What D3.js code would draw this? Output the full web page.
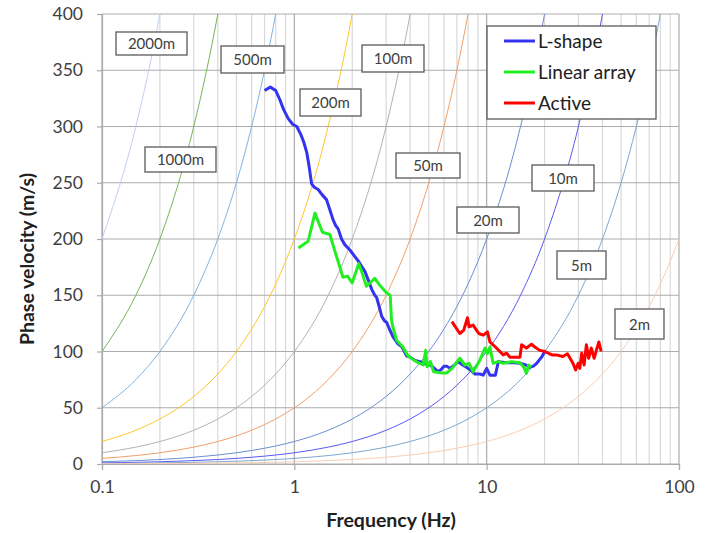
<!DOCTYPE html>
<html>
<head>
<meta charset="utf-8">
<script src="https://cdn.jsdelivr.net/npm/d3@7"></script>
<style>
  body { margin: 0; background: #fff; }
  svg text { font-family: Lato, "Open Sans", sans-serif; }
</style>
</head>
<body>
<div id="chart"></div>
<script>
// chart data
//= ================================
var lShape = [
  [0.70, 332], [0.75, 335], [0.80, 332], [0.84, 324], [0.88, 315], [0.93, 307],
  [0.98, 302], [1.03, 300], [1.08, 293], [1.12, 286], [1.16, 277], [1.19, 266],
  [1.23, 249], [1.27, 246], [1.33, 244], [1.40, 239], [1.47, 235], [1.53, 226],
  [1.59, 217], [1.64, 212], [1.69, 209], [1.76, 200], [1.83, 195], [1.90, 192],
  [1.95, 190], [2.05, 185], [2.16, 180], [2.25, 175], [2.33, 171], [2.43, 163],
  [2.53, 155], [2.62, 150], [2.68, 148], [2.76, 140], [2.85, 131], [2.95, 127],
  [3.02, 126], [3.12, 120], [3.26, 113], [3.45, 107], [3.63, 104], [3.84, 96],
  [4.00, 95], [4.25, 92], [4.49, 91], [4.80, 89], [5.10, 88], [5.35, 85],
  [5.60, 82], [5.80, 84], [6.00, 87], [6.20, 87], [6.45, 85], [6.80, 88],
  [7.10, 91], [7.50, 88], [7.85, 86], [8.30, 83], [8.70, 80], [9.20, 80],
  [9.60, 79], [10.0, 85], [10.4, 79], [11.1, 79], [11.5, 91], [12.7, 90],
  [14.0, 90], [14.9, 89.5], [16.0, 88], [16.7, 86], [17.5, 87], [18.2, 89.5],
  [19.3, 95], [20.1, 100]
];

var linearArray = [
  [1.05, 192], [1.18, 198], [1.28, 223], [1.40, 206], [1.53, 204], [1.64, 187],
  [1.79, 166], [1.89, 167], [2.00, 161], [2.16, 178], [2.24, 171], [2.37, 158],
  [2.62, 165], [2.78, 159], [3.02, 152], [3.15, 150], [3.20, 128], [3.25, 122],
  [3.40, 110], [3.67, 104], [3.90, 96], [4.30, 91], [4.68, 88], [4.82, 101],
  [4.90, 86.5], [5.10, 91], [5.30, 82], [5.80, 81], [6.20, 81], [6.60, 85],
  [7.25, 94], [7.70, 88], [8.10, 89.5], [8.50, 82], [9.20, 92], [9.80, 103],
  [10.1, 98], [10.4, 104], [10.8, 89.5], [11.5, 91], [12.2, 89.5], [13.5, 91],
  [14.9, 90], [15.6, 86], [16.1, 80.5], [16.5, 88], [17.1, 86.5]
];

var active = [
  [6.60, 126.5], [7.25, 116], [7.60, 119], [7.95, 130], [8.10, 122], [8.50, 123.5],
  [9.10, 116], [9.60, 114.5], [10.1, 117.5], [10.4, 108.5], [11.1, 104], [12.2, 97],
  [12.7, 98.5], [13.2, 95], [14.9, 95], [15.2, 106], [16.1, 103], [17.1, 106.5],
  [17.8, 104], [18.9, 101], [20.1, 100], [21.2, 98], [21.9, 97], [23.0, 97],
  [24.9, 95.5], [26.3, 98], [28.1, 89.5], [29.0, 83.5], [29.9, 89.5], [30.5, 85],
  [31.2, 98.5], [32.1, 88], [33.0, 106], [33.9, 94], [35.0, 103], [36.2, 94],
  [37.2, 101], [38.3, 108.5], [39.4, 100]
];

// wavelength reference lines: v = f * wavelength, at these frequencies
var curveFreqs = [0.1, 0.15, 0.2, 0.3, 0.4, 0.5, 0.6, 0.7, 0.8, 0.9,
  1, 1.5, 2, 3, 4, 5, 6, 7, 8, 9,
  10, 15, 20, 30, 40, 50, 60, 70, 80, 90, 100];
var wavelengths = [2000, 1000, 500, 200, 100, 50, 20, 10, 5, 2];
var wavelengthLabels = ["2000m", "1000m", "500m", "200m", "100m", "50m", "20m", "10m", "5m", "2m"];

var seriesNames = ["L-shape", "Linear array", "Active"];
var xTicks = [0.1, 1, 10, 100];
var yTicks = [0, 50, 100, 150, 200, 250, 300, 350, 400];

// styles / layout
//= ================================
var curveColors = ["#bfd0ec", "#7ab356", "#80b3e2", "#ffc72a", "#b3b3b3",
  "#f2a06a", "#6b8dd2", "#5a5af5", "#7ea7d0", "#f8cfb4"];
var seriesColors = ["#3434f0", "#22ee22", "#ff0000"];
// label boxes [x, y, w, h] in px
var labelBoxes = [
  [116, 32, 71, 23], [145, 147, 71, 25], [221, 46, 63, 27], [300, 89, 61, 27],
  [362, 45, 62, 27], [396, 153, 64, 25], [457, 207, 62, 26], [532, 165, 62, 26],
  [557, 251, 49, 28], [615, 309, 49, 30]
];

var svgWidth = 707;
var svgHeight = 533;
var margin = { top: 14, right: 28, bottom: 69, left: 102 };
var width = svgWidth - margin.left - margin.right;
var height = svgHeight - margin.top - margin.bottom;

var svg = d3.select("#chart")
  .append("svg")
    .attr("width", svgWidth)
    .attr("height", svgHeight);

var chartGroup = svg.append("g")
  .attr("transform", `translate(${margin.left}, ${margin.top})`);

var xScale = d3.scaleLog().domain([0.1, 100]).range([0, width]);
var yScale = d3.scaleLinear().domain([0, 400]).range([height, 0]);

// minor vertical gridlines
var minorX = [];
[0.1, 1, 10].forEach(function(d) {
  for (var k = 2; k <= 9; k++) minorX.push(d * k);
});
chartGroup.selectAll(".minor")
  .data(minorX)
  .enter()
  .append("line")
    .attr("x1", d => xScale(d)).attr("x2", d => xScale(d))
    .attr("y1", 0).attr("y2", height)
    .attr("stroke", "#d9d9d9")
    .attr("stroke-width", 1.2);

// major gridlines
chartGroup.selectAll(".hgrid")
  .data(yTicks)
  .enter()
  .append("line")
    .attr("x1", 0).attr("x2", width)
    .attr("y1", d => yScale(d)).attr("y2", d => yScale(d))
    .attr("stroke", "#ababab")
    .attr("stroke-width", 1.2);

chartGroup.selectAll(".vgrid")
  .data(xTicks)
  .enter()
  .append("line")
    .attr("x1", d => xScale(d)).attr("x2", d => xScale(d))
    .attr("y1", 0).attr("y2", height)
    .attr("stroke", "#ababab")
    .attr("stroke-width", 1.2);

// axes
var xAxis = chartGroup.append("g")
  .attr("transform", "translate(0," + height + ")")
  .call(d3.axisBottom(xScale).tickValues(xTicks).tickSize(6).tickPadding(11)
    .tickFormat(d3.format("")));
var yAxis = chartGroup.append("g")
  .call(d3.axisLeft(yScale).tickValues(yTicks).tickSize(5).tickPadding(14));

[xAxis, yAxis].forEach(function(ax) {
  ax.select(".domain").attr("stroke", "#ababab").attr("stroke-width", 1.2);
  ax.selectAll(".tick line").attr("stroke", "#ababab").attr("stroke-width", 1.2);
  ax.selectAll(".tick text")
    .attr("fill", "#404040")
    .style("font-size", "17.5px")
    .style("font-family", "Lato, sans-serif");
});

// clip
chartGroup.append("clipPath").attr("id", "clip")
  .append("rect").attr("width", width).attr("height", height);

var plot = chartGroup.append("g").attr("clip-path", "url(#clip)");

var line = d3.line()
  .x(d => xScale(d[0]))
  .y(d => yScale(d[1]));

var smoothLine = d3.line()
  .curve(d3.curveMonotoneX)
  .x(d => xScale(d[0]))
  .y(d => yScale(d[1]));

// wavelength curves
wavelengths.forEach(function(lambda, i) {
  var pts = curveFreqs.map(f => [f, f * lambda]);
  plot.append("path")
    .datum(pts)
    .attr("fill", "none")
    .attr("stroke", curveColors[i])
    .attr("stroke-width", 1)
    .attr("d", smoothLine);
});

// measured curves
[lShape, linearArray, active].forEach(function(data, i) {
  plot.append("path")
    .datum(data)
    .attr("fill", "none")
    .attr("stroke", seriesColors[i])
    .attr("stroke-width", 3)
    .attr("stroke-linejoin", "round")
    .attr("d", line);
});

// wavelength labels
labelBoxes.forEach(function(b, i) {
  var g = svg.append("g");
  g.append("rect")
    .attr("x", b[0]).attr("y", b[1])
    .attr("width", b[2]).attr("height", b[3])
    .attr("fill", "#fff")
    .attr("stroke", "#595959")
    .attr("stroke-width", 1.3);
  g.append("text")
    .attr("x", b[0] + b[2] / 2)
    .attr("y", b[1] + b[3] / 2 + 5.5)
    .attr("text-anchor", "middle")
    .attr("fill", "#404040")
    .style("font-size", "15px")
    .text(wavelengthLabels[i]);
});

// legend
var legend = svg.append("g");
legend.append("rect")
  .attr("x", 487).attr("y", 26)
  .attr("width", 169).attr("height", 93)
  .attr("fill", "#fff")
  .attr("stroke", "#595959")
  .attr("stroke-width", 1.3);
seriesNames.forEach(function(name, i) {
  var y = 41 + i * 31;
  legend.append("line")
    .attr("x1", 504).attr("x2", 535)
    .attr("y1", y).attr("y2", y)
    .attr("stroke", seriesColors[i])
    .attr("stroke-width", 3);
  legend.append("text")
    .attr("x", 538).attr("y", y + 7)
    .attr("fill", "#202020")
    .style("font-size", "19px")
    .text(name);
});

// axis labels
svg.append("text")
  .attr("text-anchor", "middle")
  .attr("x", 391)
  .attr("y", 527)
  .style("font-weight", "bold")
  .style("font-size", "19.5px")
  .attr("fill", "#202020")
  .text("Frequency (Hz)");

svg.append("text")
  .attr("text-anchor", "middle")
  .attr("transform", "translate(34, 259) rotate(-90)")
  .style("font-weight", "bold")
  .style("font-size", "19.5px")
  .attr("fill", "#202020")
  .text("Phase velocity (m/s)");
</script>
</body>
</html>
